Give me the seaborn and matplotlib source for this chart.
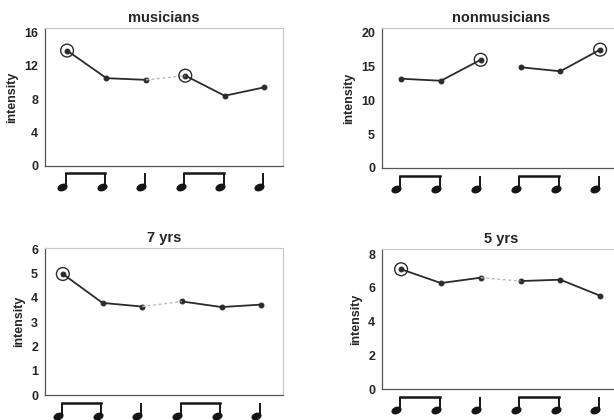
import numpy as np
import pandas as pd
import seaborn as sns
import matplotlib
matplotlib.use("Agg")
import matplotlib.pyplot as plt
from matplotlib.transforms import blended_transform_factory, Affine2D
from matplotlib.path import Path

# ---------------- data ----------------
positions = [1, 2, 3, 4, 5, 6]
musicians = [13.8, 10.5, 10.3, 10.8, 8.4, 9.4]
nonmusicians = [13.2, 12.9, 16.0, 14.9, 14.3, 17.5]
yrs7 = [4.98, 3.79, 3.64, 3.85, 3.62, 3.72]
yrs5 = [7.1, 6.28, 6.6, 6.4, 6.48, 5.53]
titles = ["musicians", "nonmusicians", "7 yrs", "5 yrs"]
circled = {"musicians": [1, 4], "nonmusicians": [3, 6], "7 yrs": [1], "5 yrs": [1]}
yticks = {"musicians": [0, 4, 8, 12, 16], "nonmusicians": [0, 5, 10, 15, 20],
          "7 yrs": [0, 1, 2, 3, 4, 5, 6], "5 yrs": [0, 2, 4, 6, 8]}
note_types = ["beam_start", "beam_end", "quarter", "beam_start", "beam_end", "quarter"]
segments = [1, 1, 1, 2, 2, 2]

values = {"musicians": musicians, "nonmusicians": nonmusicians, "7 yrs": yrs7, "5 yrs": yrs5}

# ---------------- layout / style ----------------
W, H = 614, 420
rects = {
    "musicians":    [45 / W, 1 - 166 / H, 238 / W, 138 / H],
    "nonmusicians": [382 / W, 1 - 168 / H, 238 / W, 140 / H],
    "7 yrs":        [45 / W, 1 - 395 / H, 238 / W, 147 / H],
    "5 yrs":        [382 / W, 1 - 389 / H, 238 / W, 140 / H],
}
xlims = {"musicians": (0.44, 6.48), "nonmusicians": (0.52, 6.5),
         "7 yrs": (0.55, 6.55), "5 yrs": (0.52, 6.5)}
ylims = {"musicians": (0, 16.5), "nonmusicians": (0, 20.7),
         "7 yrs": (0, 6.05), "5 yrs": (0, 8.3)}
connector = {"musicians": True, "nonmusicians": False, "7 yrs": True, "5 yrs": True}

LINE = "#2b2b2b"

sns.set_theme(style="white")
plt.rcParams["font.family"] = ["Liberation Sans", "DejaVu Sans"]
plt.rcParams["font.weight"] = "bold"

fig = plt.figure(figsize=(W / 100, H / 100), dpi=100)
fig.patch.set_facecolor("white")

head_path = Path.unit_circle().transformed(Affine2D().scale(1.0, 0.65).rotate_deg(22))

rows = []
for g in titles:
    for p, v, s in zip(positions, values[g], segments):
        rows.append({"group": g, "position": p, "intensity": v, "segment": s})
df = pd.DataFrame(rows)


def draw_notes(ax):
    trans = blended_transform_factory(ax.transData, ax.transAxes)
    h_px = ax.get_position().height * H
    top = -7.5 / h_px
    bot = -21.0 / h_px
    for i, (p, t) in enumerate(zip(positions, note_types)):
        sx = p - 0.03
        ax.plot([sx, sx], [top, bot], color="#151515", lw=1.4, transform=trans,
                clip_on=False, solid_capstyle="butt")
        ax.plot([p - 0.12], [bot], marker=head_path, markersize=6.5, color="#151515",
                transform=trans, clip_on=False, linestyle="none")
        if t == "beam_start":
            nx = positions[i + 1] - 0.03
            ax.plot([sx, nx], [top, top], color="#151515", lw=1.8, transform=trans,
                    clip_on=False, solid_capstyle="projecting")


for g in titles:
    ax = fig.add_axes(rects[g])
    sub = df[df["group"] == g]
    sns.lineplot(data=sub, x="position", y="intensity", units="segment", estimator=None,
                 color=LINE, lw=1.3, marker="o", markersize=3.5, markeredgecolor=LINE,
                 ax=ax, legend=False)
    vals = values[g]
    if connector[g]:
        ax.plot(positions[2:4], vals[2:4], ls=(0, (2, 2)), color="#b8b8b8", lw=1.0)
    cx = [p for p in positions if p in circled[g]]
    cy = [vals[positions.index(p)] for p in cx]
    sns.scatterplot(x=cx, y=cy, s=85, fc="none", ec=LINE, linewidth=1.0, ax=ax,
                    legend=False, zorder=5)
    ax.set_xlim(*xlims[g])
    ax.set_ylim(*ylims[g])
    ax.set_yticks(yticks[g])
    ax.set_yticklabels([str(t) for t in yticks[g]], fontsize=9, fontweight="bold")
    ax.set_xticks(positions)
    ax.set_xticklabels([])
    ax.tick_params(axis="y", direction="out", length=3, width=0.8, color="#555555", pad=2)
    ax.tick_params(axis="x", direction="out", length=2, width=0.6, color="#aaaaaa")
    ax.set_xlabel("")
    ax.set_ylabel("intensity", fontsize=9, fontweight="bold", labelpad=4)
    ax.set_title(g, fontsize=10.5, fontweight="bold", pad=4)
    for side in ["left", "bottom"]:
        ax.spines[side].set_color("#555555")
        ax.spines[side].set_linewidth(0.9)
    for side in ["top", "right"]:
        ax.spines[side].set_color("#c8c8c8")
        ax.spines[side].set_linewidth(0.8)
    draw_notes(ax)

fig.savefig("out.png", dpi=100, facecolor="white")
